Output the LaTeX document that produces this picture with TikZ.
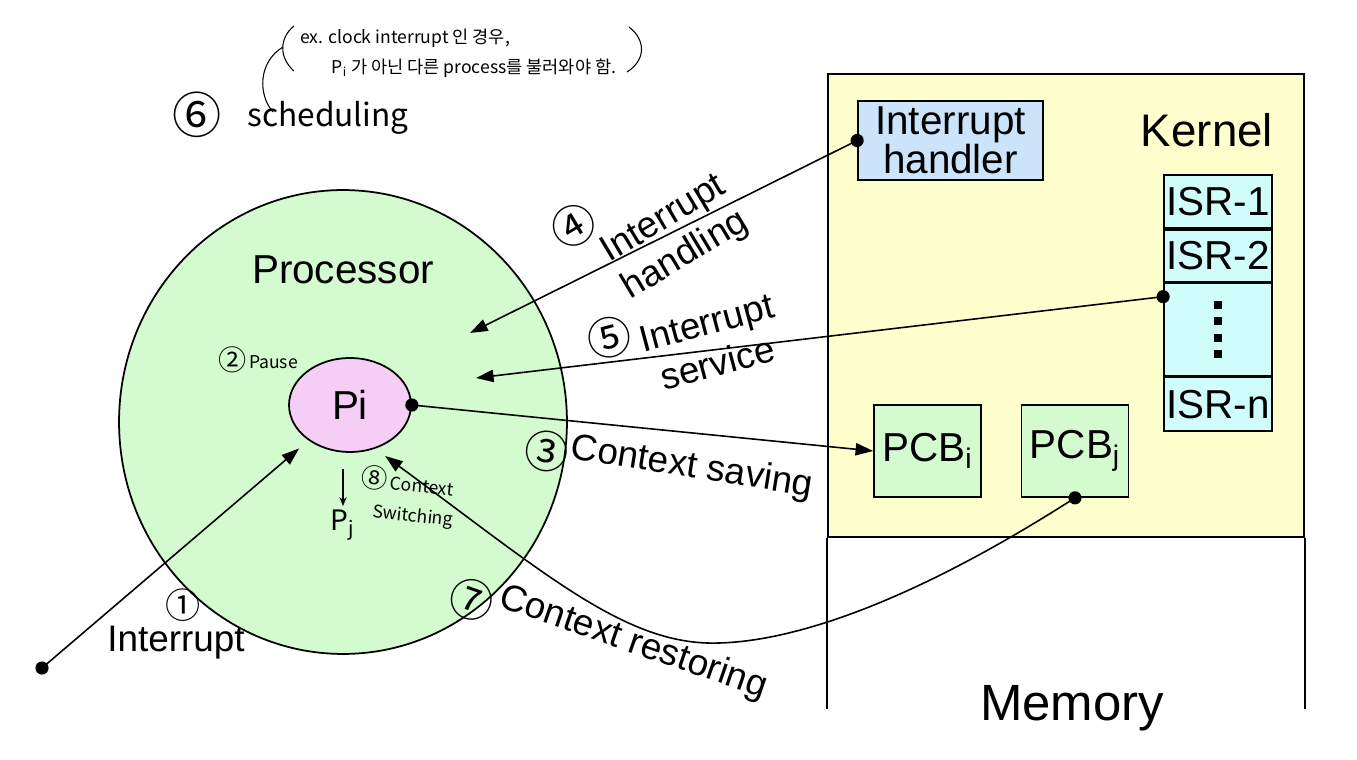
\documentclass[tikz,border=0pt]{standalone}
\usepackage{fontspec}
\setmainfont{Liberation Sans}
\newfontfamily\hand{Noto Sans CJK KR}
\usepackage{tikz}
\usetikzlibrary{positioning, arrows.meta, shapes.geometric}

\definecolor{procgreen}{RGB}{212,250,207}
\definecolor{pipink}{RGB}{245,206,245}
\definecolor{kernyellow}{RGB}{255,255,206}
\definecolor{hdlblue}{RGB}{204,228,250}
\definecolor{isrcyan}{RGB}{208,252,252}

\newcommand{\bignum}[2]{{\fontsize{#1}{#1}\selectfont #2}}

\tikzset{
  lbl/.style={font=\fontsize{21}{24}\selectfont, inner sep=1pt},
  boxtxt/.style={font=\fontsize{23}{22}\selectfont},
  hand/.style={font=\hand\fontsize{10}{17}\selectfont, inner sep=1pt},
  num/.style={font=\hand\fontsize{25}{25}\selectfont, inner sep=0pt},
  dot/.style={circle, fill=black, inner sep=0pt, minimum size=7.5pt},
  arr/.style={line width=0.9pt, -{Triangle[length=10pt,width=7pt]}},
  cell/.style={draw, line width=1pt, fill=isrcyan, minimum width=2.16cm, inner sep=0pt, font=\fontsize{23}{22}\selectfont},
  pcb/.style={draw, line width=1pt, fill=procgreen, minimum width=2.14cm, minimum height=1.84cm, inner sep=0pt, font=\fontsize{23}{22}\selectfont},
}

\begin{document}
\begin{tikzpicture}[x=0.02cm, y=-0.02cm]
\useasboundingbox (0,0) rectangle (1357,760);

% memory with kernel part
\node[draw, line width=1pt, fill=kernyellow, minimum width=9.52cm, minimum height=9.26cm, inner sep=0pt] (kernel) at (1066,305.5) {};
\draw[line width=1pt] (kernel.south west) -- ++(0,171);
\draw[line width=1pt] (kernel.south east) -- ++(0,171);
\node[font=\fontsize{29}{30}\selectfont] (memlbl) at (1072,708) {Memory};
\node[font=\fontsize{26}{28}\selectfont] (kernlbl) at (1207,130) {Kernel};

% handler, ISR table, PCBs
\node[draw, line width=1pt, fill=hdlblue, minimum width=3.7cm, minimum height=1.58cm, inner sep=0pt, align=center, boxtxt] (handler) at (950.5,140.5) {Interrupt\\handler};
\node[cell, minimum height=1.06cm] (isr1) at (1218,201.5) {ISR-1};
\node[cell, minimum height=1.04cm, below=0pt of isr1] (isr2) {ISR-2};
\node[cell, minimum height=1.84cm, below=0pt of isr2] (isrdots) {};
\node[cell, minimum height=1.08cm, below=0pt of isrdots] (isrn) {ISR-n};
\foreach \k in {-1.5,-0.5,0.5,1.5}
\fill ([yshift=\k*0.33cm]isrdots.center) ++(-0.08cm,-0.08cm) rectangle ++(0.16cm,0.16cm);
\node[pcb] (pcbi) at (927.5,451) {PCB\textsubscript{i}};
\node[pcb] (pcbj) at (1075,451) {PCB\textsubscript{j}};

% processor
\node[ellipse, draw, line width=1pt, fill=procgreen, minimum width=8.96cm, minimum height=9.28cm] (proc) at (343,422) {};
\node[font=\fontsize{23}{24}\selectfont] (proclbl) at (343,270) {Processor};
\node[ellipse, draw, line width=1pt, fill=pipink, minimum width=2.44cm, minimum height=1.88cm, inner sep=0pt, font=\fontsize{23}{24}\selectfont] (pi) at (350,405) {Pi};
\node[hand] (pause) at (258,360) {\bignum{16}{②}\,\raisebox{1.5pt}{Pause}};
\node[hand, font=\hand\fontsize{16}{18}\selectfont] (pj) at (343,525) {P\textsubscript{j}};
\draw[line width=0.7pt, -{Stealth[length=5pt,width=4pt]}, shorten <=9pt, shorten >=1pt] (pi.south -| pj) -- (pj);
\node[hand, align=center, rotate=-6] (ctxsw) at (406,497) {\bignum{15}{⑧}\,Context\\\quad Switching};

% note on scheduling
\node[hand, align=left, anchor=west] (note) at (298,53) {ex. clock interrupt 인 경우,\\\hspace{18pt}P\textsubscript{i} 가 아닌 다른 process를 불러와야 함.};
\draw[line width=0.6pt] (294,26) .. controls (279,38) and (279,58) .. (294,71);
\draw[line width=0.6pt] (283,47) .. controls (258,62) and (258,95) .. (273,112);
\draw[line width=0.6pt] (629,27) .. controls (646,40) and (646,60) .. (627,72);
\node[num, font=\hand\fontsize{28}{28}\selectfont] (n6) at (197,115) {⑥};
\node[hand, font=\hand\fontsize{18}{18}\selectfont] (sched) at (328,118) {scheduling};

% end points
\node[dot] (irqdot) at (42,668) {};
\node[dot] (pidot) at (pi.east) {};
\node[dot] (hdldot) at (handler.west) {};
\node[dot] (isrdot) at ([yshift=-8pt]isrdots.north west) {};
\node[dot] (pcbjdot) at (pcbj.south) {};
\coordinate (hdlend) at (470,333);
\coordinate (svcend) at (476,378);

% connectors
\draw[arr, shorten >=7pt] (irqdot.center) -- (pi);
\draw[arr] (pidot.center) -- (pcbi.west);
\draw[arr] (hdldot.center) -- (hdlend);
\draw[arr] (isrdot.center) -- (svcend);
\draw[arr, shorten >=7pt] (pcbjdot.center) .. controls (900,610) and (780,645) .. (707,643)
  .. controls (620,640) and (540,570) .. (pi.-60);

% labels
\node[num, font=\hand\fontsize{20}{20}\selectfont] (n1) at (183,605) {①};
\node[lbl] (irqlbl) at (176,643) {Interrupt};
\node[num, rotate=-9] (n3) at (547,451) {③};
\node[lbl, rotate=-9] (savelbl) at (692,468) {Context saving};
\node[num, rotate=31] (n4) at (574,226) {④};
\node[lbl, align=center, rotate=31] (hdllbl) at (675,238) {Interrupt\\handling};
\node[num, rotate=15] (n5) at (609,338) {⑤};
\node[lbl, align=center, rotate=15] (svclbl) at (712,343) {Interrupt\\service};
\node[num, rotate=-19] (n7) at (472,600) {⑦};
\node[lbl, rotate=-19] (restlbl) at (633,643) {Context restoring};
\end{tikzpicture}
\end{document}
